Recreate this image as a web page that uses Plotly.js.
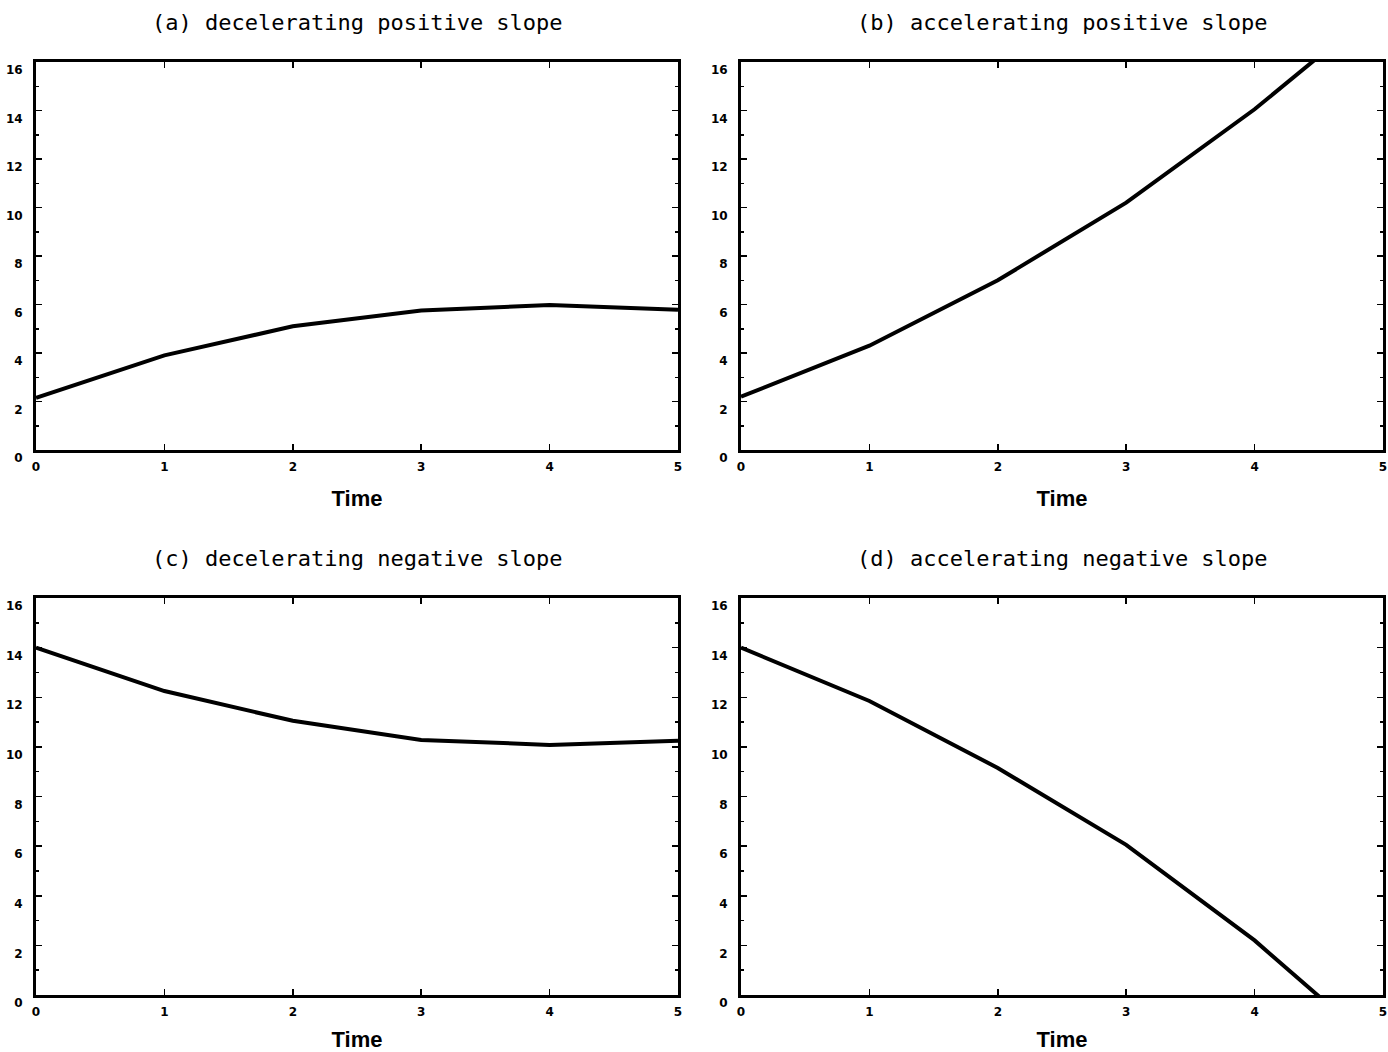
<!DOCTYPE html>
<html>
<head>
<meta charset="utf-8">
<script src="https://cdn.plot.ly/plotly-3.0.1.min.js"></script>
<style>
  html, body { margin: 0; padding: 0; background: #fff; }
  #chart { width: 1388px; height: 1052px; }
</style>
</head>
<body>
<div id="chart"></div>
<script>
// Time points shared by all four panels
const time = [0, 1, 2, 3, 4, 5];

// Outcome values for each growth shape
const decelPositive = [2.15, 3.9, 5.1, 5.75, 5.98, 5.78];
const accelPositive = [2.2, 4.3, 7.0, 10.2, 14.05, 18.4];
const decelNegative = [14.0, 12.25, 11.05, 10.28, 10.08, 10.25];
const accelNegative = [14.0, 11.85, 9.15, 6.05, 2.2, -2.3];

const panelTitles = [
  "(a) decelerating positive slope",
  "(b) accelerating positive slope",
  "(c) decelerating negative slope",
  "(d) accelerating negative slope"
];
const xTickVals = [0, 1, 2, 3, 4, 5];
const yTickVals = [0, 2, 4, 6, 8, 10, 12, 14, 16];

const W = 1388, H = 1052;
// panel boxes in pixels: [left, right, top, bottom]
const boxes = [
  [36, 678, 62, 450],
  [741, 1383, 62, 450],
  [36, 678, 598, 995],
  [741, 1383, 598, 995]
];

const seriesList = [decelPositive, accelPositive, decelNegative, accelNegative];

const traces = seriesList.map((ys, i) => ({
  type: "scatter",
  mode: "lines",
  x: time,
  y: ys,
  xaxis: i === 0 ? "x" : "x" + (i + 1),
  yaxis: i === 0 ? "y" : "y" + (i + 1),
  line: { color: "#000", width: 4 },
  hoverinfo: "skip",
  showlegend: false
}));

const layout = {
  width: W,
  height: H,
  margin: { l: 0, r: 0, t: 0, b: 0 },
  paper_bgcolor: "#fff",
  plot_bgcolor: "#fff",
  showlegend: false,
  annotations: []
};

const tickFont = { family: "DejaVu Sans, sans-serif", size: 12, color: "#000", weight: "bold" };

boxes.forEach((b, i) => {
  const [l, r, t, bt] = b;
  const xk = i === 0 ? "xaxis" : "xaxis" + (i + 1);
  const yk = i === 0 ? "yaxis" : "yaxis" + (i + 1);
  const yid = i === 0 ? "y" : "y" + (i + 1);
  const xid = i === 0 ? "x" : "x" + (i + 1);
  layout[xk] = {
    domain: [l / W, r / W],
    anchor: yid,
    range: [0, 5],
    tickvals: xTickVals,
    ticktext: xTickVals.map(String),
    ticks: "inside",
    ticklen: 6,
    tickwidth: 1.5,
    tickcolor: "#000",
    showline: true,
    linewidth: 3,
    linecolor: "#000",
    mirror: "ticks",
    showgrid: false,
    zeroline: false,
    tickfont: tickFont,
    ticklabelstandoff: 4,
    title: {
      text: "Time",
      font: { family: "Liberation Sans, Arial, sans-serif", size: 22, color: "#000", weight: "bold" },
      standoff: 18
    },
    fixedrange: true
  };
  layout[yk] = {
    domain: [1 - bt / H, 1 - t / H],
    anchor: xid,
    range: [0, 16],
    tickvals: yTickVals,
    ticktext: yTickVals.map(String),
    ticks: "inside",
    ticklen: 6,
    tickwidth: 1.5,
    tickcolor: "#000",
    minor: { dtick: 1, tick0: 1, ticks: "inside", ticklen: 3, tickwidth: 1.5, tickcolor: "#000" },
    showline: true,
    linewidth: 3,
    linecolor: "#000",
    mirror: "ticks",
    showgrid: false,
    zeroline: false,
    tickfont: tickFont,
    ticklabelstandoff: 8,
    ticklabelshift: 8,
    fixedrange: true
  };
  layout.annotations.push({
    text: panelTitles[i],
    xref: "paper",
    yref: "paper",
    x: ((l + r) / 2) / W,
    y: 1 - (t - 40) / H,
    xanchor: "center",
    yanchor: "middle",
    showarrow: false,
    font: { family: "DejaVu Sans Mono, monospace", size: 22, color: "#000" }
  });
});

Plotly.newPlot("chart", traces, layout, { staticPlot: true, displayModeBar: false });
</script>
</body>
</html>
